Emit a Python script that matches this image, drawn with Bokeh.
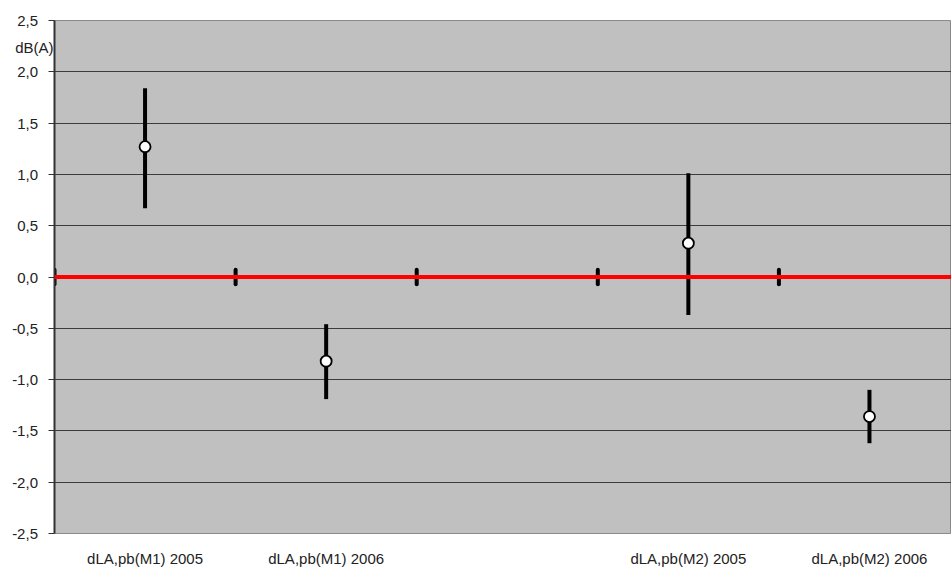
from bokeh.plotting import figure
from bokeh.models import Range1d, FixedTicker, CustomJSTickFormatter, ColumnDataSource, Span
from bokeh.embed import file_html
from bokeh.resources import INLINE

categories = ["dLA,pb(M1) 2005", "dLA,pb(M1) 2006", "", "dLA,pb(M2) 2005", "dLA,pb(M2) 2006"]
means = [1.27, -0.82, None, 0.33, -1.36]
upper = [1.84, -0.46, None, 1.01, -1.10]
lower = [0.67, -1.19, None, -0.37, -1.62]
zero_values = [0.0, 0.0, 0.0, 0.0, 0.0]
zero_err = [0.07, 0.07, 0.07, 0.07, 0.07]
y_ticks = [-2.5, -2.0, -1.5, -1.0, -0.5, 0.0, 0.5, 1.0, 1.5, 2.0, 2.5]
unit_label = "dB(A)"
unit_pos = 2.24

FONT = "Liberation Sans"

p = figure(width=951, height=569, output_backend="svg", toolbar_location=None,
           x_range=Range1d(0, 4.953), y_range=Range1d(-2.5, 2.5),
           min_border_left=54, min_border_right=0, min_border_top=20, min_border_bottom=35)
p.background_fill_color = "#C0C0C0"
p.border_fill_color = "white"
p.outline_line_color = "#8a8a8a"
p.outline_line_width = 1

p.xgrid.grid_line_color = None
p.ygrid.grid_line_color = "#3c3c3c"
p.ygrid.grid_line_width = 1
p.ygrid.ticker = FixedTicker(ticks=y_ticks[1:-1])

# numeric labels + unit label as tick labels; visible tick marks drawn as minor ticks
p.yaxis.ticker = FixedTicker(ticks=y_ticks + [unit_pos], minor_ticks=y_ticks)
p.yaxis.formatter = CustomJSTickFormatter(
    code="return tick.toFixed(1).replace('.', ',') + '\\u2007\\u00a0\\u2009';")
p.yaxis.major_label_overrides = {unit_pos: unit_label}
p.yaxis.axis_line_color = "#333333"
p.yaxis.axis_line_width = 2
p.yaxis.major_tick_line_color = None
p.yaxis.major_tick_out = 0
p.yaxis.major_tick_in = 0
p.yaxis.minor_tick_line_color = "#333333"
p.yaxis.minor_tick_out = 6
p.yaxis.minor_tick_in = 0
p.yaxis.major_label_standoff = -5
p.yaxis.major_label_text_font = FONT
p.yaxis.major_label_text_font_size = "15px"
p.yaxis.major_label_text_color = "#222222"

centers = [i + 0.5 for i in range(len(categories))]
p.xaxis.ticker = FixedTicker(ticks=centers)
p.xaxis.major_label_overrides = {c: lab for c, lab in zip(centers, categories)}
p.xaxis.axis_line_color = None
p.xaxis.major_tick_line_color = None
p.xaxis.minor_tick_line_color = None
p.xaxis.major_label_standoff = 10
p.xaxis.major_label_text_font = FONT
p.xaxis.major_label_text_font_size = "15px"
p.xaxis.major_label_text_color = "#222222"

# red zero line
p.add_layout(Span(location=0, dimension="width", line_color="#FF0000", line_width=4))

# small zero-length bars at category boundaries
bounds = list(range(len(zero_values)))
zsrc = ColumnDataSource(dict(x=bounds,
                             top=[v + e for v, e in zip(zero_values, zero_err)],
                             bot=[v - e for v, e in zip(zero_values, zero_err)]))
p.segment(x0="x", y0="bot", x1="x", y1="top", source=zsrc, line_color="black", line_width=4, line_cap="round")

idx = [i for i, m in enumerate(means) if m is not None]
src = ColumnDataSource(dict(x=[centers[i] for i in idx], m=[means[i] for i in idx],
                            up=[upper[i] for i in idx], lo=[lower[i] for i in idx]))
p.segment(x0="x", y0="lo", x1="x", y1="up", source=src, line_color="black", line_width=4)
p.scatter(x="x", y="m", source=src, size=11, fill_color="white", line_color="black", line_width=1.8)

open("out.html", "w").write(file_html(p, INLINE))
